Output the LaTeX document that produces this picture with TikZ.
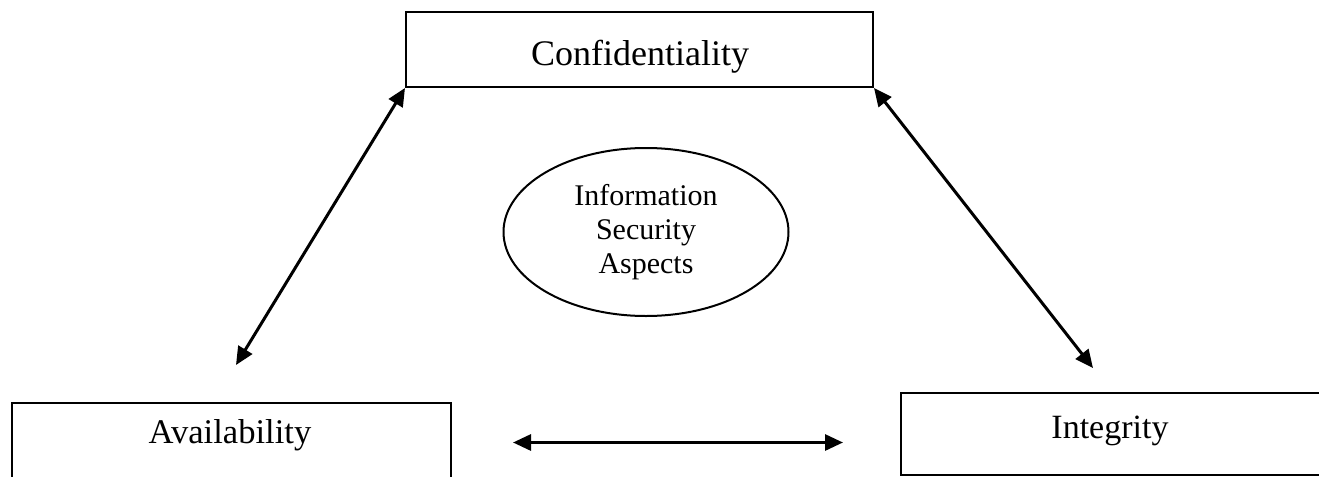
\documentclass[tikz,border=0pt]{standalone}
\usepackage{fontspec}
\setmainfont{Liberation Serif}
\usetikzlibrary{arrows.meta,shapes.geometric}
\begin{document}
\begin{tikzpicture}[x=0.5pt,y=-0.5pt,
  frame/.style={draw, line width=1pt, rectangle, inner sep=0pt},
  hub/.style={draw, line width=1pt, ellipse, inner sep=0pt,
    minimum width=142.5pt, minimum height=84pt, align=center,
    font=\fontsize{15}{17}\selectfont},
  link/.style={line width=1.5pt,
    {Triangle[length=9pt,width=8pt]}-{Triangle[length=9pt,width=8pt]}},
  title/.style={anchor=base, inner sep=0pt}]
\useasboundingbox (0,0) rectangle (1319,477);
\clip (0,0) rectangle (1319,477);

% the three aspects
\node[frame, minimum width=233.5pt, minimum height=37.5pt] (conf) at (639.5,49.5) {};
\node[frame, minimum width=219.5pt, minimum height=58.5pt] (avail) at (231.5,461.5) {};
\node[frame, minimum width=212pt, minimum height=41pt] (integ) at (1113,434) {};

\node[title, font=\fontsize{18}{20}\selectfont] (conftext) at (640,65) {Confidentiality};
\node[title, font=\fontsize{17.3}{20}\selectfont] (availtext) at (230,443) {Availability};
\node[title, font=\fontsize{17}{20}\selectfont] (integtext) at (1110,438) {Integrity};

% centre
\node[hub] (core) at (646,232) {Information\\Security\\Aspects};

% two-way links
\coordinate (availtip) at (236,365);
\coordinate (integtip) at (1093,368);
\coordinate (midleft) at (513,442.5);
\coordinate (midright) at (843,442.5);
\draw[link] (conf.south west) -- (availtip);
\draw[link] (conf.south east) -- (integtip);
\draw[link] (midleft) -- (midright);
\end{tikzpicture}
\end{document}
